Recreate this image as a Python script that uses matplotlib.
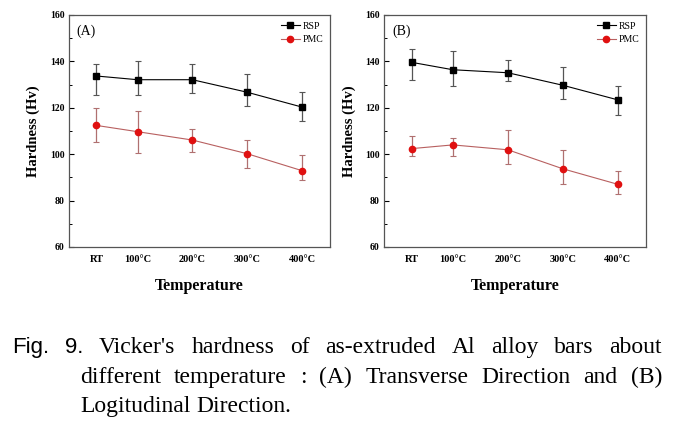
import numpy as np
import matplotlib.pyplot as plt
from matplotlib.ticker import MultipleLocator

# temperaturas (RT = 25 C)
temps = [25, 100, 200, 300, 400]
temp_labels = ["RT", "100°C", "200°C", "300°C", "400°C"]

# (A) direccion transversal
a_rsp = [133.7, 132.1, 132.1, 126.7, 120.3]
a_rsp_hi = [138.7, 140.1, 138.7, 134.7, 127.0]
a_rsp_lo = [125.7, 125.3, 126.3, 120.6, 114.3]
a_pmc = [112.4, 109.7, 106.1, 100.2, 92.9]
a_pmc_hi = [120.1, 118.4, 111.0, 106.2, 99.8]
a_pmc_lo = [105.1, 100.6, 100.9, 94.1, 88.9]

# (B) direccion longitudinal
b_rsp = [139.6, 136.4, 135.1, 129.7, 123.4]
b_rsp_hi = [145.2, 144.6, 140.4, 137.7, 129.2]
b_rsp_lo = [131.9, 129.6, 131.4, 123.7, 117.1]
b_pmc = [102.4, 104.0, 101.9, 93.7, 87.0]
b_pmc_hi = [108.0, 106.8, 110.6, 101.7, 92.6]
b_pmc_lo = [99.1, 99.1, 95.7, 87.0, 82.9]

serif = "Liberation Serif"

fig = plt.figure(figsize=(6.81, 4.22), dpi=100)
ax_a = fig.add_axes([0.1013, 0.4147, 0.3833, 0.5498])
ax_b = fig.add_axes([0.5639, 0.4147, 0.3847, 0.5498])


def panel(ax, tag, rsp, rsp_hi, rsp_lo, pmc, pmc_hi, pmc_lo):
    rsp = np.array(rsp)
    pmc = np.array(pmc)
    rsp_err = [rsp - np.array(rsp_lo), np.array(rsp_hi) - rsp]
    pmc_err = [pmc - np.array(pmc_lo), np.array(pmc_hi) - pmc]

    ax.errorbar(temps, rsp, yerr=rsp_err, fmt='none', ecolor='#555555',
                elinewidth=0.9, capsize=2, capthick=0.8, zorder=2)
    ax.errorbar(temps, pmc, yerr=pmc_err, fmt='none', ecolor='#b07070',
                elinewidth=0.9, capsize=2, capthick=0.8, zorder=2)
    ax.plot(temps, rsp, color='black', lw=0.8, marker='s', ms=4.5,
            mfc='black', mec='black', label='RSP', zorder=3)
    ax.plot(temps, pmc, color='#b86060', lw=0.8, marker='o', ms=4.5,
            mfc='#e01010', mec='#e01010', label='PMC', zorder=3)

    ax.set_xlim(-25, 451)
    ax.set_ylim(60, 160)
    ax.set_xticks(temps)
    ax.set_xticklabels(temp_labels, family=serif, fontsize=7.5, fontweight='bold')
    ax.yaxis.set_major_locator(MultipleLocator(20))
    ax.yaxis.set_minor_locator(MultipleLocator(10))
    for lab in ax.get_yticklabels():
        lab.set_family(serif)
        lab.set_fontsize(7)
        lab.set_fontweight('bold')
    ax.tick_params(axis='x', length=0, pad=6)
    ax.tick_params(axis='y', which='major', direction='in', length=3.5, width=0.8, pad=3)
    ax.tick_params(axis='y', which='minor', direction='in', length=2, width=0.7)
    for s in ax.spines.values():
        s.set_color('#555555')
        s.set_linewidth(0.9)

    ax.set_xlabel('Temperature', family=serif, fontsize=11.5, fontweight='bold',
                  labelpad=10)
    ax.set_ylabel('Hardness (Hv)', family=serif, fontsize=10.5, fontweight='bold',
                  labelpad=7)
    ax.text(0.03, 0.93, tag, transform=ax.transAxes, family=serif, fontsize=10,
            ha='left', va='center')
    ax.legend(loc='upper right', frameon=False, prop={'family': serif, 'size': 7},
              handlelength=1.9, handletextpad=0.3, labelspacing=0.45,
              borderaxespad=0.3)


panel(ax_a, '(A)', a_rsp, a_rsp_hi, a_rsp_lo, a_pmc, a_pmc_hi, a_pmc_lo)
panel(ax_b, '(B)', b_rsp, b_rsp_hi, b_rsp_lo, b_pmc, b_pmc_hi, b_pmc_lo)

# leyenda de la figura, justificada a mano (x en px, linea base en px)
caption_lines = [
    (["Fig.", "9.", "Vicker's", "hardness", "of", "as-extruded", "Al", "alloy", "bars", "about"], 12, 662, 353, True),
    (["different", "temperature", ":", "(A)", "Transverse", "Direction", "and", "(B)"], 80, 662, 383, True),
    (["Logitudinal", "Direction."], 80, None, 412, False),
]
sans_words = {"Fig.", "9."}
fs_cap = 17

renderer = fig.canvas.get_renderer()
W, H = 681, 422
for words, x0, x1, y, justify in caption_lines:
    texts = []
    for w in words:
        fam = "Liberation Sans" if w in sans_words else serif
        size = fs_cap - 1 if w in sans_words else fs_cap
        t = fig.text(0, 1 - y / H, w, family=fam, fontsize=size, ha='left', va='baseline')
        texts.append(t)
    widths = [t.get_window_extent(renderer).width for t in texts]
    if justify:
        gap = (x1 - x0 - sum(widths)) / (len(words) - 1)
    else:
        gap = fs_cap * 0.35
    x = x0
    for t, w in zip(texts, widths):
        t.set_x(x / W)
        x += w + gap

fig.savefig("out.png", dpi=100)
